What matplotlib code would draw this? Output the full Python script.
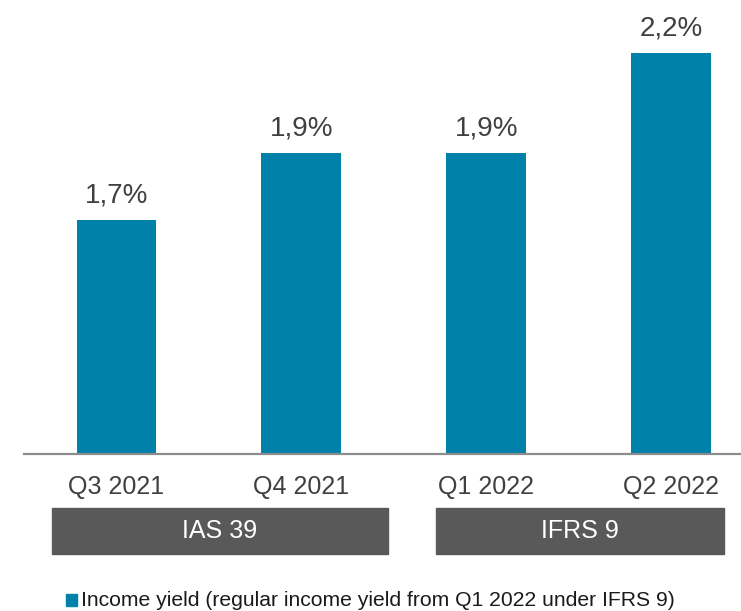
import matplotlib.pyplot as plt
from matplotlib.patches import Rectangle
from matplotlib.transforms import blended_transform_factory

plt.rcParams['font.family'] = ['Liberation Sans', 'DejaVu Sans']

quarters = ['Q3 2021', 'Q4 2021', 'Q1 2022', 'Q2 2022']
income_yield = [1.7, 1.9, 1.9, 2.2]
standards = ['IAS 39', 'IFRS 9']
legend_label = 'Income yield (regular income yield from Q1 2022 under IFRS 9)'

BAR_COLOR = '#0081A9'
TEXT_COLOR = '#404040'
BOX_COLOR = '#595959'

fig = plt.figure(figsize=(7.41, 6.11), dpi=100)
ax = fig.add_axes([24 / 741, 1 - 454 / 611, 717 / 741, 454 / 611])

x = range(len(quarters))
ax.bar(x, income_yield, width=0.432, color=BAR_COLOR)
ax.set_xlim(-0.5, 3.378)
ax.set_ylim(1.0, 1.0 + 454 / 334)

for xi, v in zip(x, income_yield):
    ax.annotate(f'{v:.1f}%'.replace('.', ','), (xi, v), xytext=(0, 13),
                textcoords='offset points', ha='center', va='baseline',
                fontsize=20, color=TEXT_COLOR)

for side in ['top', 'right', 'left']:
    ax.spines[side].set_visible(False)
ax.spines['bottom'].set_color('#8c8c8c')
ax.spines['bottom'].set_linewidth(1.6)
ax.set_yticks([])
ax.set_xticks(list(x))
ax.set_xticklabels(quarters, fontsize=18, color=TEXT_COLOR)
ax.tick_params(axis='x', length=0, pad=15)

# accounting standard bands under the quarter labels
trans = blended_transform_factory(ax.transData, ax.transAxes)
spans = [(-0.351, 1.470), (1.730, 3.286)]
y0, y1 = -100 / 454, -54 / 454
for name, (a, b) in zip(standards, spans):
    ax.add_patch(Rectangle((a, y0), b - a, y1 - y0, transform=trans,
                           color=BOX_COLOR, clip_on=False))
    ax.text((a + b) / 2, (y0 + y1) / 2, name, transform=trans, ha='center',
            va='center', fontsize=18, color='white')

# legend
fig.patches.append(Rectangle((66 / 741, 1 - 606 / 611), 11 / 741, 12 / 611,
                             transform=fig.transFigure, color=BAR_COLOR))
fig.text(81 / 741, 1 - 600 / 611, legend_label, ha='left', va='center',
         fontsize=15.2, color='#1a1a1a')

fig.savefig('out.png', dpi=100)
